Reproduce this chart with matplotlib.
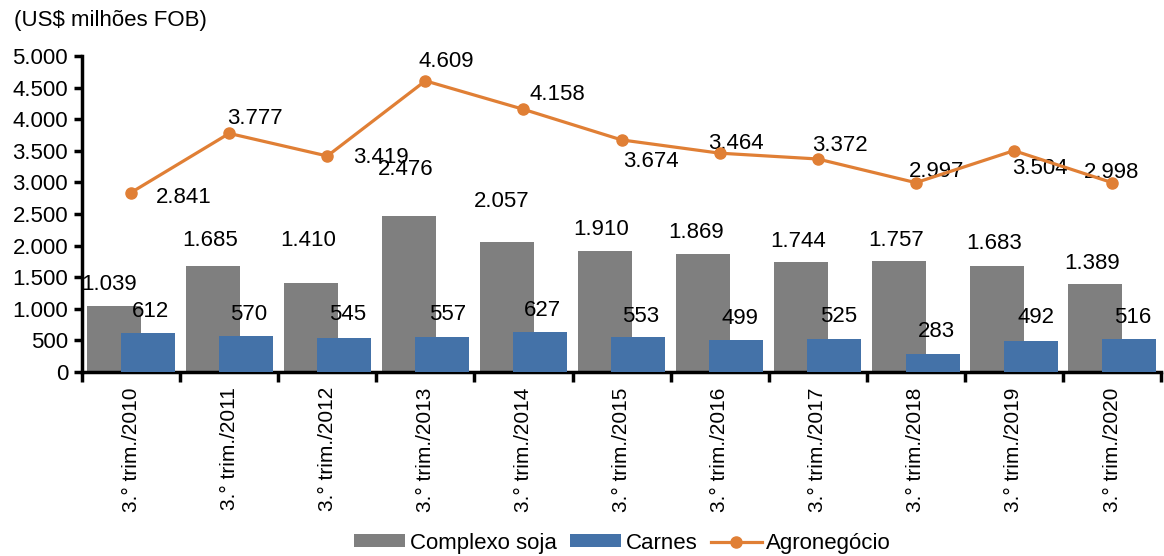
import numpy as np
import matplotlib.pyplot as plt
import matplotlib.ticker as ticker

plt.rcParams['font.family'] = ['Liberation Sans', 'DejaVu Sans']
plt.rcParams['font.size'] = 16

periodos = ["3.° trim./%d" % a for a in range(2010, 2021)]
soja = np.array([1039, 1685, 1410, 2476, 2057, 1910, 1869, 1744, 1757, 1683, 1389])
carnes = np.array([612, 570, 545, 557, 627, 553, 499, 525, 283, 492, 516])
agro = np.array([2841, 3777, 3419, 4609, 4158, 3674, 3464, 3372, 2997, 3504, 2998])

# label offsets in pixels (dx, dy to baseline) - hand placed like in the original
off_soja = [(-5, 16), (-2.5, 19.5), (-2.5, 37), (-3.5, 40.5), (-5, 35), (-4, 16),
            (-7, 16), (-3, 15), (-3, 15), (-3, 17), (-3, 15)]
off_carnes = [(2.5, 16), (3, 16), (3.5, 17.6), (6, 17), (2, 16), (2.5, 15),
              (3.5, 16.5), (4, 17), (4, 17), (5, 18), (4, 16)]
off_agro = [(53, -10), (26, 9), (54, -7), (21, 14), (34, 9), (29.5, -27),
            (16, 4), (22, 8), (21, 6), (26, -23), (0, 5)]

def fmt(v):
    return "{:,}".format(int(v)).replace(",", ".")

fig = plt.figure(figsize=(11.64, 5.56), dpi=100)
ax = fig.add_axes([0.0705, 0.331, 0.927, 0.568])

x = np.arange(len(periodos))
w = 0.55
b1 = ax.bar(x - 0.17, soja, w, color='#7f7f7f', label='Complexo soja', zorder=2)
b2 = ax.bar(x + 0.17, carnes, w, color='#4472a8', label='Carnes', zorder=3)
ln, = ax.plot(x, agro, color='#e07f35', lw=2.3, marker='o', ms=8, label='Agronegócio', zorder=4)

for i in range(len(x)):
    ax.annotate(fmt(soja[i]), (x[i] - 0.17, soja[i]), xytext=off_soja[i],
                textcoords='offset pixels', ha='center', va='baseline')
    ax.annotate(fmt(carnes[i]), (x[i] + 0.17, carnes[i]), xytext=off_carnes[i],
                textcoords='offset pixels', ha='center', va='baseline')
    ax.annotate(fmt(agro[i]), (x[i], agro[i]), xytext=off_agro[i],
                textcoords='offset pixels', ha='center', va='baseline')

ax.set_xlim(-0.5, len(x) - 0.5)
ax.set_ylim(0, 5000)
ax.yaxis.set_major_locator(ticker.MultipleLocator(500))
ax.yaxis.set_major_formatter(ticker.FuncFormatter(lambda v, p: fmt(v)))

ax.set_xticks(x)
ax.set_xticklabels(periodos, rotation=90, va='top', fontsize=15)
ax.set_xticks(np.arange(-0.5, len(x)), minor=True)
ax.tick_params(axis='x', which='major', length=0, pad=11)
ax.tick_params(axis='x', which='minor', length=7, width=2.5, direction='out')
ax.tick_params(axis='y', length=6, width=2.5, direction='out', pad=4)

for s in ['top', 'right']:
    ax.spines[s].set_visible(False)
for s in ['left', 'bottom']:
    ax.spines[s].set_linewidth(2.5)

fig.text(0.012, 0.963, "(US$ milhões FOB)", ha='left', va='center')

fig.legend(handles=[b1, b2, ln], loc='center', bbox_to_anchor=(0.535, 0.023), ncol=3,
           frameon=False, handlelength=2.3, handleheight=0.5, columnspacing=0.6,
           handletextpad=0.2)

fig.savefig('out.png', dpi=100)
